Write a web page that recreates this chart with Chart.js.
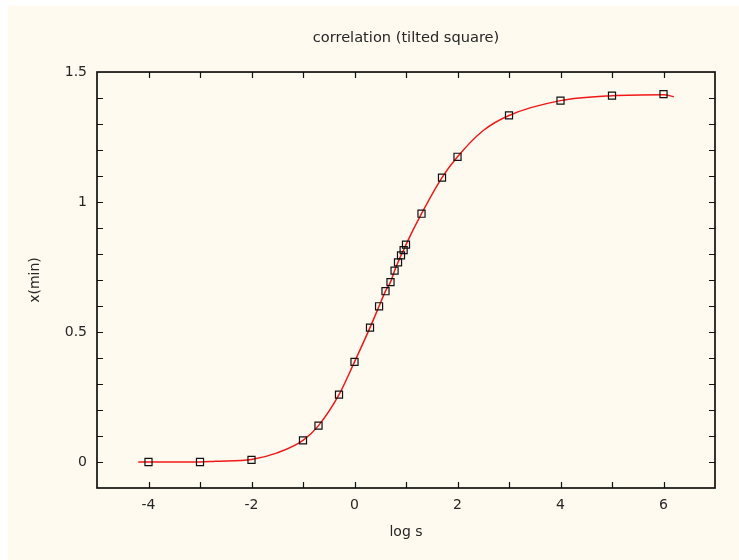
<!DOCTYPE html>
<html>
<head>
<meta charset="utf-8">
<script src="https://cdn.jsdelivr.net/npm/chart.js@4/dist/chart.umd.min.js"></script>
<style>
  html, body { margin: 0; padding: 0; background: #ffffff; }
  #wrap { position: absolute; left: 8px; top: 6px; width: 731px; height: 554px; background: #fffaf0; }
  canvas { display: block; }
</style>
</head>
<body>
<div id="wrap"><canvas id="c" width="731" height="554"></canvas></div>
<script>
// Measured points: log s vs x(min)
const logS = [-4, -3, -2, -1, -0.699, -0.301, 0, 0.301, 0.477, 0.602, 0.699, 0.778, 0.845, 0.903, 0.954, 1, 1.301, 1.699, 2, 3, 4, 5, 6];
const xMin = [0, 0, 0.008, 0.083, 0.140, 0.259, 0.385, 0.517, 0.599, 0.657, 0.692, 0.736, 0.768, 0.795, 0.815, 0.836, 0.955, 1.094, 1.174, 1.333, 1.390, 1.409, 1.415];
// Fitted curve (red)
const curveX = [-4.2, -3, -2.7, -2, -1.5, -1, -0.699, -0.301, 0, 0.301, 0.477, 0.602, 0.699, 0.778, 0.845, 0.903, 0.954, 1, 1.301, 1.699, 2, 2.5, 3, 4, 5, 6, 6.2];
const curveY = [0, 0, 0.003, 0.010, 0.035, 0.083, 0.140, 0.259, 0.385, 0.517, 0.599, 0.657, 0.692, 0.736, 0.768, 0.795, 0.815, 0.836, 0.955, 1.094, 1.174, 1.275, 1.333, 1.390, 1.409, 1.413, 1.405];

const titleText = 'correlation (tilted square)';
const xTitle = 'log s';
const yTitle = 'x(min)';

const FONT = 'DejaVu Sans';
const TXT = '#262626';

const framePlugin = {
  id: 'frame',
  afterDraw(chart) {
    const { ctx, chartArea: { left, right, top, bottom }, scales: { x, y } } = chart;
    ctx.save();
    ctx.strokeStyle = '#111';
    ctx.lineWidth = 1.2;
    const tl = 6;
    ctx.beginPath();
    x.ticks.forEach(t => {
      const px = Math.round(x.getPixelForValue(t.value)) + 0.5;
      if (px <= left + 1 || px >= right - 1) return;
      ctx.moveTo(px, bottom); ctx.lineTo(px, bottom - tl);
      ctx.moveTo(px, top); ctx.lineTo(px, top + tl);
    });
    y.ticks.forEach(t => {
      const py = Math.round(y.getPixelForValue(t.value)) + 0.5;
      if (py <= top + 1 || py >= bottom - 1) return;
      ctx.moveTo(left, py); ctx.lineTo(left + tl, py);
      ctx.moveTo(right, py); ctx.lineTo(right - tl, py);
    });
    ctx.stroke();
    ctx.lineWidth = 1.7;
    ctx.strokeRect(left, top, right - left, bottom - top);
    ctx.restore();
  }
};

new Chart(document.getElementById('c'), {
  type: 'scatter',
  data: {
    datasets: [
      {
        label: 'data',
        data: logS.map((v, i) => ({ x: v, y: xMin[i] })),
        showLine: false,
        pointStyle: 'rect',
        pointRadius: 5,
        pointBorderWidth: 1.2,
        pointBorderColor: '#111',
        pointBackgroundColor: 'rgba(0,0,0,0)',
        order: 0
      },
      {
        label: 'fit',
        data: curveX.map((v, i) => ({ x: v, y: curveY[i] })),
        showLine: true,
        borderColor: '#f01818',
        borderWidth: 1.5,
        pointRadius: 0,
        cubicInterpolationMode: 'monotone',
        order: 1
      }
    ]
  },
  options: {
    responsive: false,
    animation: false,
    devicePixelRatio: 1,
    layout: { padding: { left: 0, right: 24, top: 0, bottom: 0 } },
    plugins: {
      legend: { display: false },
      tooltip: { enabled: false },
      title: {
        display: true,
        text: titleText,
        fullSize: false,
        color: TXT,
        font: { family: FONT, size: 14.6, weight: 'normal', lineHeight: 1.2 },
        padding: { top: 23.2, bottom: 25.3 }
      }
    },
    scales: {
      x: {
        type: 'linear',
        min: -5, max: 7,
        grid: { display: false, drawTicks: false },
        border: { display: false },
        ticks: {
          stepSize: 1,
          padding: 9,
          color: TXT,
          maxRotation: 0,
          autoSkip: false,
          font: { family: FONT, size: 14 },
          callback: (v) => (Math.abs(v % 2) < 1e-9 && v > -5 && v < 7) ? String(v) : ''
        },
        title: {
          display: true, text: xTitle, color: TXT,
          font: { family: FONT, size: 14, lineHeight: 1.2 },
          padding: { top: 0, bottom: 19 }
        },
        afterFit: (s) => { s.height = 72; }
      },
      y: {
        type: 'linear',
        min: -0.1, max: 1.5,
        grid: { display: false, drawTicks: false },
        border: { display: false },
        ticks: {
          stepSize: 0.1,
          padding: 10,
          color: TXT,
          autoSkip: false,
          font: { family: FONT, size: 14 },
          callback: (v) => {
            const r = Math.round(v * 10) / 10;
            return (Math.abs(r * 2 - Math.round(r * 2)) < 1e-9 && r >= 0) ? String(r) : '';
          }
        },
        title: {
          display: true, text: yTitle, color: TXT,
          font: { family: FONT, size: 14, lineHeight: 1.2 },
          padding: { top: 18.6, bottom: 0 }
        },
        afterFit: (s) => { s.width = 89; }
      }
    }
  },
  plugins: [framePlugin]
});
</script>
</body>
</html>
